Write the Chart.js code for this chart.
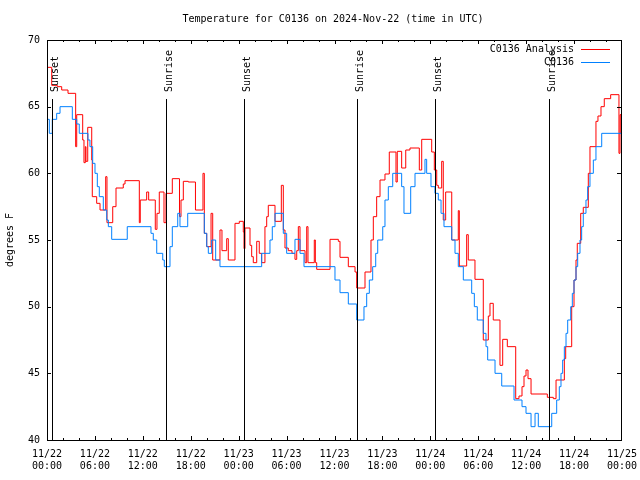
<!DOCTYPE html>
<html>
<head>
<meta charset="utf-8">
<title>C0136 temperature</title>
<script src="https://cdn.jsdelivr.net/npm/chart.js@4.4.1/dist/chart.umd.min.js"></script>
<style>
  body { margin: 0; background: #fff; }
  #wrap { width: 640px; height: 480px; }
</style>
</head>
<body>
<div id="wrap"><canvas id="tempChart" width="640" height="480"></canvas></div>
<script>
// hours since 11/22 00:00 UTC
var hourTicks = [0, 6, 12, 18, 24, 30, 36, 42, 48, 54, 60, 66, 72];
var xTickLabels = [
  ["11/22", "00:00"], ["11/22", "06:00"], ["11/22", "12:00"], ["11/22", "18:00"],
  ["11/23", "00:00"], ["11/23", "06:00"], ["11/23", "12:00"], ["11/23", "18:00"],
  ["11/24", "00:00"], ["11/24", "06:00"], ["11/24", "12:00"], ["11/24", "18:00"],
  ["11/25", "00:00"]
];
var yTicks = [40, 45, 50, 55, 60, 65, 70];

var sunHours = [0.63, 14.94, 24.71, 38.86, 48.62, 62.90];
var sunLabels = ["Sunset", "Sunrise", "Sunset", "Sunrise", "Sunset", "Sunrise"];

var seriesNames = ["C0136 Analysis", "C0136"];
var seriesColors = ["#ff0000", "#0080ff"];

// [hour, degF] - value holds until next point
var analysisTemps = [
  [0, 67.95], [0.59, 66.6], [1.29, 66.5], [1.84, 66.25], [2.63, 66.0], [3.59, 62.0], [3.72, 64.4],
  [4.47, 62.5], [4.63, 60.8], [4.80, 62.0], [4.88, 60.9], [5.10, 63.45], [5.60, 61.0], [5.67, 58.25],
  [6.22, 57.75], [6.64, 57.25], [7.35, 59.75], [7.51, 56.3], [8.23, 57.5], [8.64, 58.9], [9.55, 59.2],
  [9.77, 59.45], [11.56, 56.3], [11.68, 58.0], [12.48, 58.6], [12.73, 58.0], [13.56, 55.8], [13.77, 57.0],
  [14.06, 58.6], [14.65, 56.3], [14.90, 58.5], [15.69, 59.6], [16.59, 56.75], [16.78, 58.0], [17.07, 59.4],
  [17.69, 59.35], [18.59, 57.25], [19.53, 60.0], [19.70, 55.5], [20.00, 54.5], [20.54, 57.0], [20.75, 53.5],
  [21.66, 55.75], [21.91, 54.2], [22.50, 55.1], [22.70, 53.5], [23.54, 56.25], [24.08, 56.4], [24.58, 55.6],
  [24.67, 54.35], [24.79, 55.9], [25.42, 54.6], [25.63, 53.75], [25.83, 53.3], [26.26, 54.9], [26.58, 54.0],
  [26.88, 53.3], [27.29, 56.0], [27.51, 56.75], [27.71, 57.6], [28.55, 56.4], [29.34, 59.1], [29.59, 55.75],
  [29.80, 54.4], [30.21, 54.2], [30.68, 54.0], [31.05, 53.55], [31.27, 54.2], [31.47, 56.0], [31.68, 54.2],
  [32.31, 53.3], [32.52, 56.0], [32.68, 53.3], [33.47, 55.0], [33.60, 53.3], [33.77, 52.8], [35.44, 55.05],
  [36.48, 54.9], [36.69, 53.7], [37.73, 53.0], [38.57, 52.6], [38.78, 51.4], [39.82, 52.6], [40.57, 55.0],
  [40.86, 56.75], [41.28, 58.25], [41.70, 59.5], [42.32, 59.95], [42.86, 61.6], [43.70, 59.35], [43.86, 61.65],
  [44.41, 60.4], [44.92, 61.75], [45.45, 61.9], [46.62, 60.25], [46.92, 62.55], [48.17, 61.6], [48.50, 60.25],
  [48.80, 59.1], [49.00, 58.9], [49.42, 60.9], [49.62, 56.5], [49.92, 58.6], [50.68, 55.0], [51.50, 57.2],
  [51.63, 53.05], [52.55, 55.4], [52.75, 53.5], [53.59, 52.05], [54.63, 47.5], [55.26, 49.3], [55.47, 50.25],
  [55.88, 49.0], [56.72, 45.6], [57.06, 47.55], [57.64, 47.0], [58.69, 43.1], [59.10, 43.3], [59.48, 44.0],
  [59.73, 44.8], [59.98, 45.25], [60.23, 44.6], [60.61, 43.45], [62.65, 43.2], [63.40, 43.1], [63.74, 44.5],
  [64.78, 46.1], [64.95, 47.0], [65.70, 50.0], [65.99, 52.0], [66.24, 53.5], [66.40, 54.75], [66.83, 57.0],
  [67.15, 57.45], [67.78, 60.0], [67.99, 62.0], [68.74, 63.9], [68.99, 64.3], [69.37, 65.0], [69.78, 65.6],
  [70.58, 65.9], [71.62, 61.5], [71.75, 64.4], [71.87, 63.0], [72, 63.0]
];

var stationTemps = [
  [0, 64.05], [0.29, 63.0], [0.66, 64.05], [1.21, 64.5], [1.63, 65.0], [3.17, 64.05], [3.72, 63.7],
  [4.04, 63.0], [5.13, 62.5], [5.38, 62.0], [5.72, 60.75], [6.01, 60.0], [6.30, 59.0], [6.55, 58.25],
  [7.05, 57.25], [7.48, 56.5], [7.68, 56.0], [8.10, 55.05], [10.05, 56.0], [13.02, 55.5], [13.31, 55.0],
  [13.74, 54.0], [14.49, 53.5], [14.69, 53.0], [15.40, 54.5], [15.69, 56.0], [16.37, 57.0], [16.65, 56.0],
  [17.62, 57.0], [19.70, 55.5], [20.00, 54.5], [20.20, 54.0], [20.62, 55.0], [21.12, 53.5], [21.66, 53.0],
  [26.88, 54.0], [27.92, 55.0], [28.21, 56.0], [28.55, 57.0], [29.59, 55.5], [30.01, 54.0], [31.05, 55.05],
  [31.68, 54.0], [32.18, 53.0], [36.06, 52.0], [36.69, 51.05], [37.73, 50.2], [38.78, 49.0], [39.69, 50.0],
  [40.03, 51.0], [40.36, 52.0], [40.78, 53.0], [41.16, 54.0], [41.41, 55.0], [42.04, 56.0], [42.32, 58.0],
  [42.74, 59.0], [43.29, 60.0], [44.41, 59.0], [44.70, 57.0], [45.54, 59.0], [46.08, 60.0], [47.33, 61.05],
  [47.54, 60.0], [48.08, 59.0], [48.58, 58.5], [49.00, 58.0], [49.34, 57.0], [49.71, 56.0], [50.68, 55.0],
  [51.09, 54.0], [51.50, 53.0], [52.13, 52.0], [53.18, 51.0], [53.51, 50.0], [53.88, 49.0], [54.63, 48.0],
  [54.97, 47.0], [55.18, 46.0], [56.10, 45.0], [56.94, 44.05], [58.48, 43.0], [59.48, 42.5], [59.98, 42.0],
  [60.61, 41.0], [61.11, 42.0], [61.52, 41.0], [63.20, 42.0], [63.82, 43.0], [64.15, 44.0], [64.36, 45.0],
  [64.57, 46.0], [64.78, 47.0], [64.99, 48.0], [65.20, 49.0], [65.58, 50.0], [65.78, 51.0], [65.99, 52.0],
  [66.24, 53.0], [66.45, 54.0], [66.74, 55.0], [66.95, 56.0], [67.15, 57.0], [67.49, 58.0], [67.70, 59.0],
  [67.99, 60.0], [68.41, 61.0], [68.74, 62.0], [69.46, 63.0], [72, 63.0]
];

var FONT = "'DejaVu Sans Mono', 'Liberation Mono', monospace";

function toPoints(arr) {
  return arr.map(function (p) { return { x: p[0], y: p[1] }; });
}

// frame, inner ticks, sun lines, legend and titles (gnuplot look)
var gnuplotDecor = {
  id: 'gnuplotDecor',
  afterDatasetsDraw: function (chart) {
    var ctx = chart.ctx, a = chart.chartArea;
    var xs = chart.scales.x, ys = chart.scales.y;
    ctx.save();
    ctx.strokeStyle = '#000';
    ctx.fillStyle = '#000';
    ctx.lineWidth = 1;

    // sunrise / sunset markers
    ctx.font = '10px ' + FONT;
    for (var i = 0; i < sunHours.length; i++) {
      var sx = Math.round(xs.getPixelForValue(sunHours[i])) + 0.5;
      ctx.beginPath();
      ctx.moveTo(sx, a.top + 59);
      ctx.lineTo(sx, a.bottom);
      ctx.stroke();
      ctx.save();
      ctx.translate(sx + 5, a.top + 52);
      ctx.rotate(-Math.PI / 2);
      ctx.textAlign = 'left';
      ctx.textBaseline = 'alphabetic';
      ctx.fillText(sunLabels[i], 0, 0);
      ctx.restore();
    }

    // border
    ctx.strokeRect(a.left + 0.5, a.top + 0.5, a.right - a.left - 1, a.bottom - a.top);

    // x ticks every 2 h, longer at labelled ones
    ctx.beginPath();
    for (var h = 2; h < 72; h += 2) {
      var px = Math.round(xs.getPixelForValue(h)) + 0.5;
      var len = (h % 6 === 0) ? 4 : 2;
      ctx.moveTo(px, a.bottom); ctx.lineTo(px, a.bottom - len);
      ctx.moveTo(px, a.top); ctx.lineTo(px, a.top + len);
    }
    for (var k = 1; k < yTicks.length - 1; k++) {
      var py = Math.round(ys.getPixelForValue(yTicks[k])) + 0.5;
      ctx.moveTo(a.left, py); ctx.lineTo(a.left + 4, py);
      ctx.moveTo(a.right - 1, py); ctx.lineTo(a.right - 5, py);
    }
    ctx.stroke();

    // legend
    ctx.textAlign = 'right';
    ctx.textBaseline = 'middle';
    chart.data.datasets.forEach(function (ds, j) {
      var ly = a.top + 9 + j * 13;
      ctx.fillStyle = '#000';
      ctx.fillText(ds.label, a.right - 48, ly);
      ctx.strokeStyle = ds.borderColor;
      ctx.beginPath();
      ctx.moveTo(a.right - 41, ly + 0.5);
      ctx.lineTo(a.right - 12, ly + 0.5);
      ctx.stroke();
    });

    // title + y label
    ctx.fillStyle = '#000';
    ctx.textAlign = 'center';
    ctx.fillText('Temperature for C0136 on 2024-Nov-22 (time in UTC)', 333, 19);
    ctx.save();
    ctx.translate(10, (a.top + a.bottom) / 2);
    ctx.rotate(-Math.PI / 2);
    ctx.fillText('degrees F', 0, 0);
    ctx.restore();

    ctx.restore();
  }
};

var ctx = document.getElementById('tempChart');
var myChart = new Chart(ctx, {
  type: 'line',
  data: {
    datasets: [{
      label: seriesNames[0],
      data: toPoints(analysisTemps),
      borderColor: seriesColors[0],
      borderWidth: 1,
      pointRadius: 0,
      stepped: true,
      fill: false,
      order: 1
    }, {
      label: seriesNames[1],
      data: toPoints(stationTemps),
      borderColor: seriesColors[1],
      borderWidth: 1,
      pointRadius: 0,
      stepped: true,
      fill: false,
      order: 0
    }]
  },
  options: {
    responsive: false,
    animation: false,
    devicePixelRatio: 1,
    layout: { padding: { top: 40, right: 18, left: 0, bottom: 0 } },
    plugins: {
      legend: { display: false },
      title: { display: false },
      tooltip: { enabled: false }
    },
    scales: {
      x: {
        type: 'linear',
        min: hourTicks[0],
        max: hourTicks[hourTicks.length - 1],
        afterFit: function (scale) {
          scale.height = 40;
          scale.paddingLeft = 0;
          scale.paddingRight = 0;
        },
        afterBuildTicks: function (scale) {
          scale.ticks = hourTicks.map(function (v) { return { value: v }; });
        },
        grid: { display: false, drawTicks: false },
        border: { display: false },
        ticks: {
          autoSkip: false,
          maxRotation: 0,
          padding: 8,
          color: '#000',
          font: { family: FONT, size: 10, lineHeight: 1.25 },
          callback: function (v, i) { return xTickLabels[i]; }
        }
      },
      y: {
        min: yTicks[0],
        max: yTicks[yTicks.length - 1],
        afterFit: function (scale) {
          scale.width = 47;
          scale.paddingTop = 0;
          scale.paddingBottom = 0;
        },
        afterBuildTicks: function (scale) {
          scale.ticks = yTicks.map(function (v) { return { value: v }; });
        },
        grid: { display: false, drawTicks: false },
        border: { display: false },
        ticks: {
          padding: 7,
          color: '#000',
          font: { family: FONT, size: 10 },
          callback: function (v) { return String(v); }
        }
      }
    }
  },
  plugins: [gnuplotDecor]
});
</script>
</body>
</html>
